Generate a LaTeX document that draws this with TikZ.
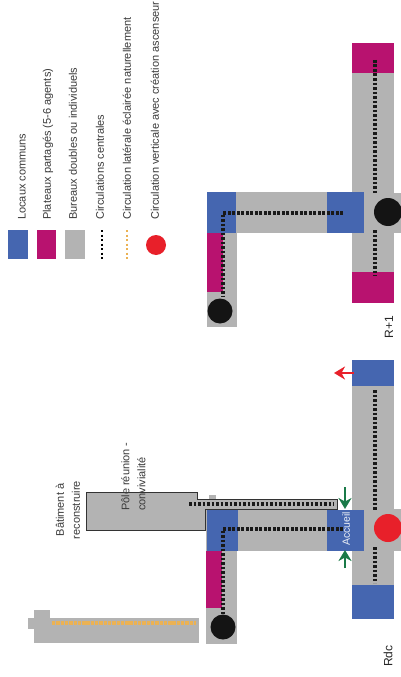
\documentclass[tikz,border=0pt]{standalone}
\usepackage{fontspec}
\setmainfont{Liberation Sans}
\usetikzlibrary{arrows.meta}
\definecolor{cblue}{HTML}{4566B0}
\definecolor{cmag}{HTML}{B8126F}
\definecolor{cgrey}{HTML}{B3B3B3}
\definecolor{corange}{HTML}{EBB254}
\definecolor{cred}{HTML}{E8202A}
\definecolor{cgreen}{HTML}{1A7A48}
\definecolor{ctext}{HTML}{3A3A3A}
\tikzset{
  legendtext/.style={rotate=90,anchor=west,inner sep=0pt,text=ctext,font=\fontsize{11}{12}\selectfont},
  plabel/.style={rotate=90,inner sep=0pt,text=ctext,font=\fontsize{11}{16}\selectfont},
  levellabel/.style={rotate=90,inner sep=0pt,text=black!85,font=\fontsize{12}{14}\selectfont},
  central/.style={draw=black!90,line width=3.6pt,dash pattern=on 2.8pt off 1.7pt},
  lateral/.style={draw=corange,line width=4.5pt,dash pattern=on 3.4pt off 0.9pt},
  shaft/.style={circle,inner sep=0pt,outer sep=0pt},
  bigarrow/.style={line width=2.2pt,-{Stealth[length=11pt,width=13pt]}}
}
\begin{document}
\begin{tikzpicture}[x=1pt,y=-1pt]
\useasboundingbox (0,0) rectangle (401,677);
\fill[white] (0,0) rectangle (401,677);
% legend
\fill[cblue] (8,230) rectangle (28,259);
\fill[cmag] (37,230) rectangle (56,259);
\fill[cgrey] (65,230) rectangle (85,259);
\coordinate (lb1) at (102,230); \coordinate (lb2) at (102,259);
\draw[draw=black,line width=2.2pt,dash pattern=on 2.2pt off 2.3pt] (lb1) -- (lb2);
\coordinate (lo1) at (127,230); \coordinate (lo2) at (127,259);
\draw[draw=corange,line width=2.2pt,dash pattern=on 2.2pt off 2.3pt] (lo1) -- (lo2);
\node[shaft,fill=cred,minimum size=20pt] (legendred) at (156,245) {};
\node[legendtext] (t1) at (22,220) {Locaux communs};
\node[legendtext] (t2) at (48,220) {Plateaux partagés (5-6 agents)};
\node[legendtext] (t3) at (73,220) {Bureaux doubles ou individuels};
\node[legendtext] (t4) at (100,220) {Circulations centrales};
\node[legendtext] (t5) at (127,220) {Circulation latérale éclairée naturellement};
\node[legendtext] (t6) at (155,220) {Circulation verticale avec création ascenseur};

% R+1
\fill[cgrey] (352,43) rectangle (394,303);
\fill[cgrey] (394,193) rectangle (401,233);
\fill[cgrey] (207,192) rectangle (352,233);
\fill[cgrey] (207,233) rectangle (237,327);
\fill[cmag] (352,43) rectangle (394,73);
\fill[cmag] (352,272) rectangle (394,303);
\fill[cblue] (327,192) rectangle (364,233);
\fill[cblue] (207,192) rectangle (236,233);
\fill[cmag] (207,233) rectangle (223,292);
\coordinate (a1) at (375,60); \coordinate (a2) at (375,194);
\coordinate (a3) at (375,230); \coordinate (a4) at (375,276);
\draw[central] (a1) -- (a2);
\draw[central] (a3) -- (a4);
\coordinate (a5) at (343,213); \coordinate (a6) at (223,213); \coordinate (a7) at (223,297);
\draw[central] (a5) -- (a6) -- (a7);
\node[shaft,fill=black!92,minimum size=28pt] (liftA) at (388,212) {};
\node[shaft,fill=black!92,minimum size=25pt] (liftB) at (220,311) {};
\node[levellabel] (r1) at (389,327) {R+1};

% Rdc
\fill[cgrey] (34,618) rectangle (199,643);
\fill[cgrey] (34,610) rectangle (50,618);
\fill[cgrey] (28,618) rectangle (34,629);
\coordinate (o1) at (52,623); \coordinate (o2) at (196,623);
\draw[lateral] (o1) -- (o2);

\fill[cgrey] (209,495) rectangle (216,500);
\draw[fill=cgrey,draw=black!80,line width=1pt] (86,492) -- (197,492) -- (197,499) -- (337,499) -- (337,509) -- (205,509) -- (205,530) -- (86,530) -- cycle;
\coordinate (b1) at (189,504); \coordinate (b2) at (334,504);
\draw[central,line width=3.4pt] (b1) -- (b2);

\fill[cgrey] (352,360) rectangle (394,619);
\fill[cgrey] (394,509) rectangle (401,551);
\fill[cgrey] (206,510) rectangle (352,551);
\fill[cgrey] (206,551) rectangle (237,644);
\fill[cblue] (352,360) rectangle (394,386);
\fill[cblue] (352,585) rectangle (394,619);
\fill[cblue] (327,510) rectangle (364,551);
\fill[cblue] (207,510) rectangle (238,551);
\fill[cmag] (206,551) rectangle (222,608);
\coordinate (c1) at (375,390); \coordinate (c2) at (375,510);
\coordinate (c3) at (375,547); \coordinate (c4) at (375,583);
\draw[central] (c1) -- (c2);
\draw[central] (c3) -- (c4);
\coordinate (c5) at (343,529); \coordinate (c6) at (223,529); \coordinate (c7) at (223,614);
\draw[central] (c5) -- (c6) -- (c7);
\node[shaft,fill=cred,minimum size=28pt] (liftC) at (388,528) {};
\node[shaft,fill=black!92,minimum size=25pt] (liftD) at (223,627) {};
\node[rotate=90,inner sep=0pt,text=white!90!cblue,font=\fontsize{10.5}{12}\selectfont] (acc) at (346,529) {Accueil};

\coordinate (g1) at (345,487); \coordinate (g2) at (345,509);
\coordinate (g3) at (345,568); \coordinate (g4) at (345,550);
\draw[bigarrow,cgreen] (g1) -- (g2);
\draw[bigarrow,cgreen] (g3) -- (g4);
\coordinate (e1) at (354,373); \coordinate (e2) at (334,373);
\draw[bigarrow,cred] (e1) -- (e2);

\node[plabel,align=center] (bat) at (68,510) {Bâtiment à\\reconstruire};
\node[plabel,align=left,anchor=north west] (pole) at (121,511) {Pôle réunion -\\convivialité};
\node[levellabel] (r0) at (388,656) {Rdc};
\end{tikzpicture}
\end{document}
